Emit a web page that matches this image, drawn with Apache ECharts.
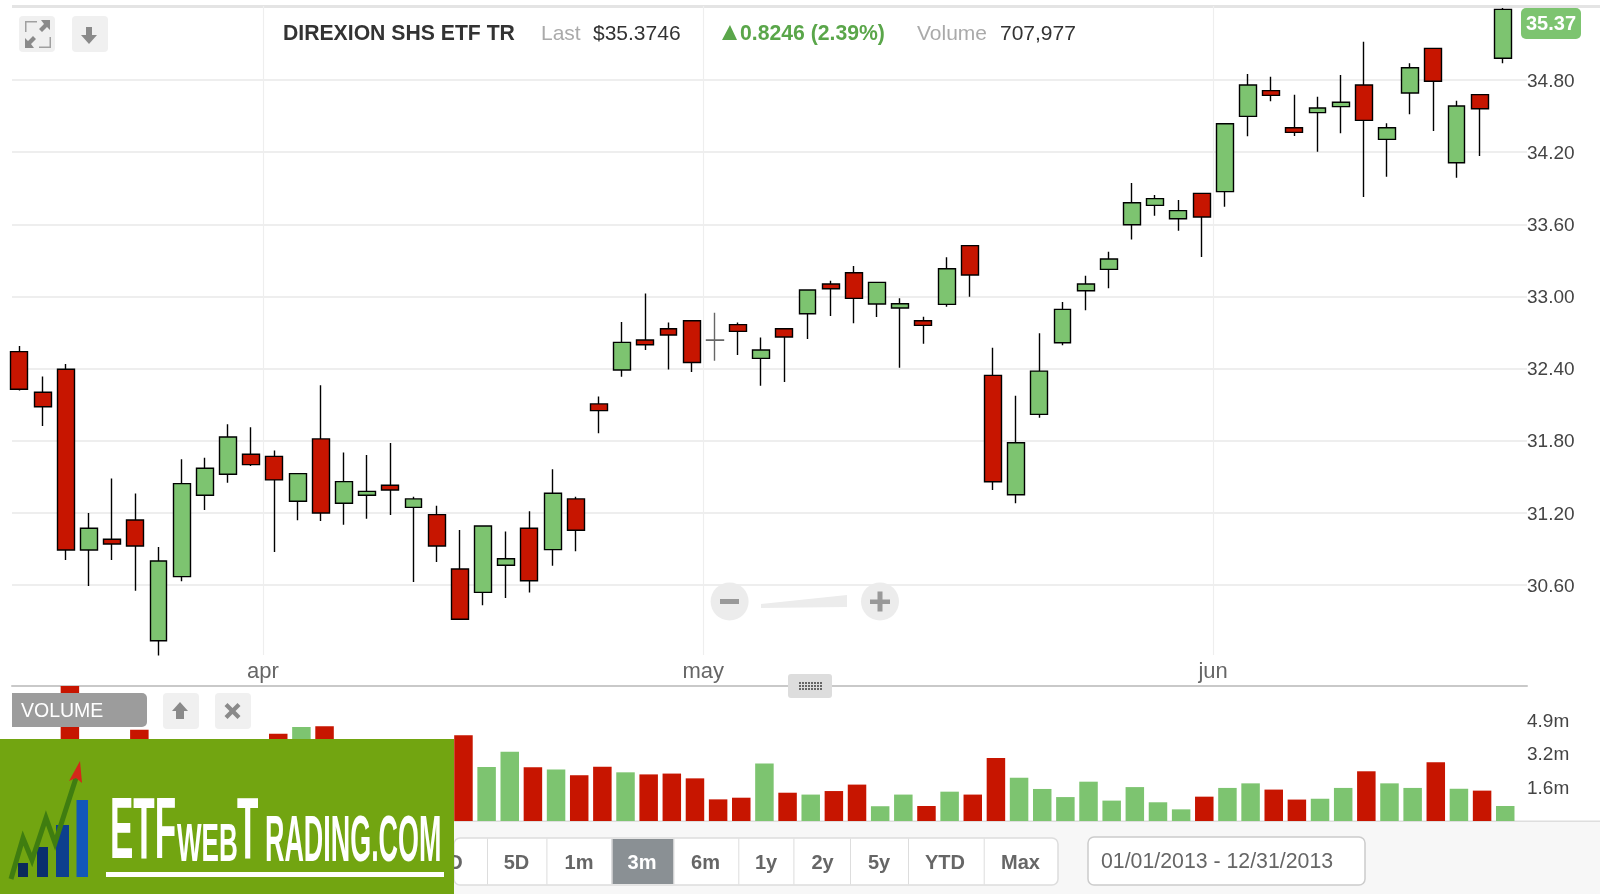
<!DOCTYPE html>
<html>
<head>
<meta charset="utf-8">
<style>html,body{margin:0;padding:0;background:#fff}#c{width:1600px;height:894px}</style>
<script src="https://cdn.jsdelivr.net/npm/echarts@6/dist/echarts.min.js"></script>
</head>
<body>
<div id="c"></div>
<script>
const candleOpen = [32.541,32.203,32.394,30.891,30.980,31.141,30.137,30.670,31.346,31.521,31.687,31.670,31.296,31.815,31.280,31.346,31.429,31.246,31.185,30.733,30.539,30.764,31.072,30.894,31.316,32.106,32.388,32.637,32.731,32.798,32.638,32.765,32.485,32.731,32.856,33.103,33.197,32.937,32.903,32.798,32.934,33.422,32.343,31.350,32.019,32.615,33.047,33.225,33.596,33.757,33.646,33.857,33.871,34.497,34.711,34.403,34.528,34.578,34.758,34.306,34.692,35.063,34.112,34.678,34.980];
const candleClose = [32.228,32.083,30.891,31.072,30.941,30.925,30.800,31.443,31.571,31.831,31.601,31.474,31.526,31.199,31.460,31.379,31.390,31.316,30.925,30.315,31.091,30.819,30.636,31.363,31.055,32.050,32.618,32.598,32.679,32.451,32.636,32.709,32.554,32.662,33.053,33.064,32.984,33.117,32.939,32.759,33.230,33.178,31.459,31.783,32.379,32.892,33.103,33.311,33.779,33.813,33.713,33.660,34.436,34.758,34.672,34.364,34.567,34.614,34.464,34.403,34.902,34.789,34.583,34.561,35.387];
const candleLow = [32.217,31.923,30.808,30.592,30.808,30.553,30.013,30.631,31.224,31.451,31.590,30.875,31.138,31.133,31.102,31.152,31.182,30.625,30.792,30.315,30.431,30.492,30.537,30.761,30.880,31.862,32.332,32.554,32.393,32.371,32.465,32.512,32.257,32.288,32.645,32.837,32.776,32.828,32.407,32.607,32.914,32.998,31.390,31.280,31.991,32.593,32.884,33.067,33.474,33.671,33.547,33.327,33.746,34.331,34.622,34.334,34.204,34.356,33.827,33.996,34.514,34.375,33.987,34.168,34.938];
const candleHigh = [32.588,32.333,32.438,31.199,31.485,31.360,30.916,31.645,31.659,31.937,31.912,31.718,31.529,32.261,31.701,31.682,31.781,31.335,31.260,31.058,31.091,31.044,31.213,31.562,31.335,32.167,32.787,33.025,32.784,32.798,32.865,32.784,32.659,32.731,33.053,33.131,33.253,33.117,32.984,32.831,33.325,33.422,32.573,32.174,32.693,32.953,33.172,33.372,33.943,33.843,33.802,33.857,34.436,34.850,34.827,34.678,34.661,34.841,35.118,34.439,34.938,35.063,34.628,34.678,35.398];
const volumeM = [2.8,2.3,6.6,3.1,1.9,4.39,3.0,3.4,2.2,2.5,1.8,4.2,4.52,4.55,2.4,1.6,1.9,2.3,2.6,4.12,2.6,3.33,2.58,2.47,2.2,2.61,2.34,2.24,2.28,2.05,1.04,1.12,2.76,1.36,1.27,1.44,1.75,0.71,1.27,0.72,1.41,1.27,3.03,2.08,1.54,1.15,1.89,0.98,1.63,0.9,0.56,1.17,1.59,1.81,1.51,1.03,1.07,1.59,2.39,1.81,1.59,2.82,1.55,1.46,0.72];
const priceTicks = [30.6,31.2,31.8,32.4,33.0,33.6,34.2,34.8];
const volumeTicks = [1.62,3.24,4.86];
const monthTicks = [10.5,29.5,51.5];
const monthLabels = ['apr','may','jun'];
const rangeButtons = ['5D','1m','3m','6m','1y','2y','5y','YTD','Max'];

const UP='#7dc470', DOWN='#c71500', FONT="'Liberation Sans',Arial,sans-serif";
const chart=echarts.init(document.getElementById('c'),null,{renderer:'canvas'});

function txt(text,x,y,size,fill,o){o=o||{};return {type:'text',x:x,y:y,z:o.z||60,scaleX:o.sx||1,scaleY:o.sy||1,style:{text:text,fill:fill,font:(o.bold?'bold ':'')+size+'px '+(o.family||FONT),textAlign:o.align||'left',textVerticalAlign:'middle'}};}
function rect(x,y,w,h,fill,o){o=o||{};return {type:'rect',z:o.z==null?50:o.z,shape:{x:x,y:y,width:w,height:h,r:o.r||0},style:{fill:fill,stroke:o.stroke||null,lineWidth:o.lw||0}};}
function poly(points,fill,z){return {type:'polygon',z:z||60,shape:{points:points},style:{fill:fill}};}
function shift(points,dx,dy){return points.map(p=>[p[0]+dx,p[1]+dy]);}

const G=[];
// frame
G.push(rect(0,821,1600,73,'#f7f7f7',{z:0}));
G.push(rect(0,820.5,1600,1.5,'#dedede',{z:0}));
G.push(rect(12,5,1588,3,'#e4e4e4',{z:0}));
// toolbar buttons
G.push(rect(19,16,36,36,'#f0f0f0',{r:4}));
G.push(poly([[50,20],[50,30],[47,27],[42,32],[39,29],[44,24],[41,20]],'#8a8a8a'));
G.push(poly([[25,48],[25,38],[28,41],[33,36],[36,39],[31,44],[34,48]],'#8a8a8a'));
G.push(rect(25,21,1.5,11,'#a0a0a0'));G.push(rect(25,21,12,1.5,'#a0a0a0'));
G.push(rect(49.5,37,1.5,11,'#a0a0a0'));G.push(rect(39,46.5,12,1.5,'#a0a0a0'));
G.push(rect(72,16,36,36,'#f0f0f0',{r:4}));
G.push(poly([[86,27],[92,27],[92,35],[97,35],[89,44],[81,35],[86,35]],'#8a8a8a'));
// header text
G.push(txt('DIREXION SHS ETF TR',283,34,21.2,'#333333',{bold:true}));
G.push(txt('Last',541,34,21,'#aaaaaa'));
G.push(txt('$35.3746',593,34,21,'#333333'));
G.push(poly([[722,40],[730,25],[737,40]],'#5aa64a'));
G.push(txt('0.8246 (2.39%)',740,34,21.2,'#5aa64a',{bold:true}));
G.push(txt('Volume',917,34,21,'#aaaaaa'));
G.push(txt('707,977',1000,34,21,'#333333'));
// last price tag
G.push(rect(1521,8,60,31,UP,{r:5}));
G.push(txt('35.37',1551,24,20,'#ffffff',{bold:true,align:'center'}));
// zoom control
G.push({type:'circle',z:50,shape:{cx:729.6,cy:601.5,r:19},style:{fill:'#ececec'}});
G.push(rect(720,599,19,5,'#999999'));
G.push(poly([[761,604],[847,595],[847,607],[761,608]],'#ececec',50));
G.push({type:'circle',z:50,shape:{cx:880,cy:601.5,r:19},style:{fill:'#ececec'}});
G.push(rect(870,599.5,20,4.5,'#999999'));
G.push(rect(877.5,591.5,5,20,'#999999'));
// drag handle
G.push(rect(788,674,44,24,'#dddddd',{r:3,z:50}));
for(let r=0;r<3;r++)for(let c=0;c<8;c++)G.push(rect(799+c*3,682+r*3,2,2,'#666666'));
// volume tag
G.push(rect(12,693,135,34,'#9c9c9c',{r:[0,5,5,0]}));
G.push(txt('VOLUME',21,711.5,19.5,'#ffffff'));
G.push(rect(163,693,36,36,'#f0f0f0',{r:4}));
G.push(poly([[180,702],[188,711],[184,711],[184,719],[176,719],[176,711],[172,711]],'#8a8a8a'));
G.push(rect(215,693,36,36,'#f0f0f0',{r:4}));
G.push(poly(shift([[-8,-5],[-5,-8],[0,-3],[5,-8],[8,-5],[3,0],[8,5],[5,8],[0,3],[-5,8],[-8,5],[-3,0]],232.5,711),'#8a8a8a'));
// range selector
G.push(rect(454,838,604,47,'#ffffff',{r:6,stroke:'#dddddd',lw:1.5,z:40}));
G.push(rect(611.7,839,61.8,45,'#8a9094',{z:41}));
[487,546.4,611.7,673.5,738.3,793.4,850,908,983.7].forEach(x=>G.push(rect(x,838.5,1,46,'#dddddd',{z:42})));
G.push(txt('1D',450,863,20,'#666666',{bold:true,align:'center',z:43}));
const btnCenters=[516.5,579,642,705.5,766,822.6,879,945,1020.5];
rangeButtons.forEach((b,i)=>G.push(txt(b,btnCenters[i],863,20,b==='3m'?'#ffffff':'#666666',{bold:true,align:'center',z:43})));
G.push(rect(1088,837,277,48,'#ffffff',{r:6,stroke:'#cccccc',lw:1.5,z:40}));
G.push(txt('01/01/2013 - 12/31/2013',1101,862,21.3,'#666666',{z:43}));
// logo
const LZ=80;
G.push(rect(0,739,454,155,'#72a511',{z:LZ}));
[[18,863,10,'#0b2a5b'],[37,847,11,'#0a2f6e'],[56,825,13,'#0d3f8e'],[76.5,800,11.5,'#1258b8']].forEach(b=>G.push(rect(b[0],b[1],b[2],877-b[1],b[3],{z:LZ+1})));
G.push({type:'polyline',z:LZ+2,shape:{points:[[11,879],[23,838],[32,860],[46,818],[55,843],[76,778]]},style:{stroke:'#3f7d10',lineWidth:5,fill:null}});
G.push(poly([[80,761],[82,783],[76,778],[69,781]],'#d4281a',LZ+3));
const tz={z:LZ+4,bold:true};
G.push(txt('ETF',110,834,70,'#ffffff',Object.assign({sx:0.5,sy:1.25},tz)));
G.push(txt('WEB',177,846.5,42,'#ffffff',Object.assign({sx:0.62,sy:1.27},tz)));
G.push(txt('T',237,834,70,'#ffffff',Object.assign({sx:0.5,sy:1.25},tz)));
G.push(txt('RADING.COM',265,843.5,46,'#ffffff',Object.assign({sx:0.585,sy:1.39},tz)));
G.push(rect(106,872,338,5,'#ffffff',{z:LZ+4}));

const tickRich={t:{fontSize:19,color:'#444444',fontFamily:FONT,padding:[3,0,0,0]}};
const days=candleOpen.map((_,i)=>i);
chart.setOption({
  animation:false,
  backgroundColor:'#ffffff',
  textStyle:{fontFamily:FONT},
  grid:[
    {left:12,top:6,width:1515,height:649,containLabel:false},
    {left:12,top:686,width:1515,height:135,containLabel:false}
  ],
  xAxis:[
    {type:'value',gridIndex:0,min:-0.321,max:65.04,
     axisLine:{show:false},axisTick:{show:false,customValues:monthTicks},
     axisLabel:{customValues:monthTicks,margin:6,fontSize:22,color:'#666666',fontFamily:FONT,
       formatter:v=>monthLabels[monthTicks.indexOf(v)]||''},
     splitLine:{show:true,lineStyle:{color:'#eeeeee',width:1.2}}},
    {type:'value',gridIndex:1,position:'top',min:-0.501,max:64.94,
     axisLine:{show:true,onZero:false,lineStyle:{color:'#c9c9c9',width:2}},axisTick:{show:false},axisLabel:{show:false},splitLine:{show:false}}
  ],
  yAxis:[
    {type:'value',gridIndex:0,position:'right',min:30.018,max:35.415,
     axisLine:{show:false},axisTick:{show:false,customValues:priceTicks},
     axisLabel:{customValues:priceTicks,margin:0,rich:tickRich,formatter:v=>'{t|'+v.toFixed(2)+'}'},
     splitLine:{show:true,lineStyle:{color:'#e9e9e9',width:1.6}}},
    {type:'value',gridIndex:1,position:'right',min:0,max:6.49,
     axisLine:{show:false},axisTick:{show:false,customValues:volumeTicks},
     axisLabel:{customValues:volumeTicks,margin:0,rich:tickRich,formatter:v=>'{t|'+v.toFixed(1)+'m}'},
     splitLine:{show:false}}
  ],
  series:[
    {type:'candlestick',name:'DIREXION SHS ETF TR',xAxisIndex:0,yAxisIndex:0,barWidth:17.4,layout:'horizontal',
     encode:{x:0,y:[1,2,3,4]},
     data:days.map(i=>{
       const item={value:[i,candleOpen[i],candleClose[i],candleLow[i],candleHigh[i]]};
       if(Math.abs(candleOpen[i]-candleClose[i])<0.01) item.itemStyle={borderColor:'#666666',borderColor0:'#666666'};
       return item;
     }),
     itemStyle:{color:UP,color0:DOWN,borderColor:'#000000',borderColor0:'#000000',borderWidth:1.4}},
    {type:'bar',name:'Volume',xAxisIndex:1,yAxisIndex:1,barWidth:18.5,
     data:days.map(i=>({value:[i,volumeM[i]],itemStyle:{color:candleClose[i]>candleOpen[i]?UP:DOWN}}))}
  ],
  graphic:{elements:G}
});
</script>
</body>
</html>
